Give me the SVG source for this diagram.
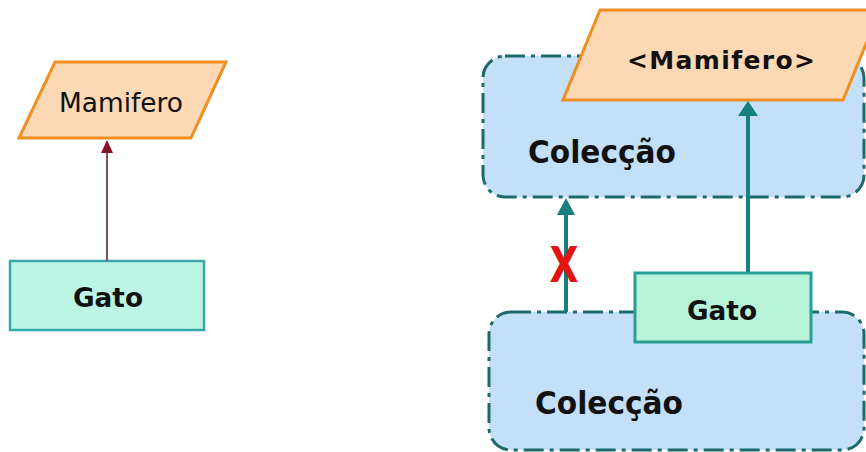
<svg xmlns="http://www.w3.org/2000/svg" width="866" height="452" viewBox="0 0 866 452">
<style>
.bg{fill:#ffffff}
.coll{fill:#c3e0f8;stroke:#1d6a6a;stroke-width:3;stroke-dasharray:20 6 4 6}
.para{fill:#fcd8b4;stroke:#ef8f22;stroke-width:3}
.gato{fill:#bdf5e4;stroke:#3aa8a8;stroke-width:2.5}
.t{font-family:"DejaVu Sans",Verdana,sans-serif;fill:#111}
.b{font-weight:bold}
.teal{stroke:#17807c;stroke-width:4;fill:none}
.brown{stroke:#7a5656;stroke-width:2;fill:none}
.head-teal{fill:#17807c}
</style>
<rect class="bg" x="0" y="0" width="866" height="452"/>
<g id="mamifero-left">
<polygon class="para" points="55,62 226,62 191,138 19,138"/>
<text class="t" x="121" y="112" font-size="26" text-anchor="middle" textLength="124" lengthAdjust="spacingAndGlyphs">Mamifero</text>
</g>
<g id="gato-left">
<rect class="gato" x="10" y="261" width="194" height="69"/>
<text class="t b" x="108" y="307" font-size="27" text-anchor="middle" textLength="70" lengthAdjust="spacingAndGlyphs">Gato</text>
</g>
<g id="colecao-top">
<rect class="coll" x="483" y="56" width="381" height="141" rx="22"/>
<text class="t b" x="528" y="163" font-size="32" textLength="148" lengthAdjust="spacingAndGlyphs">Colecção</text>
</g>
<g id="mamifero-right">
<polygon class="para" points="600,10 880,10 843,100 563,100"/>
<text class="t b" x="721" y="69" font-size="25" text-anchor="middle" textLength="188" lengthAdjust="spacing">&lt;Mamifero&gt;</text>
</g>
<g id="colecao-bottom">
<rect class="coll" x="489" y="312" width="375" height="138" rx="22"/>
<text class="t b" x="535" y="414" font-size="32" textLength="148" lengthAdjust="spacingAndGlyphs">Colecção</text>
</g>
<g id="connectors">
<line class="brown" x1="107" y1="261" x2="107" y2="150"/>
<polygon points="107,140 101,153 113,153" fill="#8a1028"/>
<line class="teal" x1="566" y1="312" x2="566" y2="212"/>
<polygon class="head-teal" points="566,198 557,215 575,215"/>
<line class="teal" x1="748" y1="273" x2="748" y2="112"/>
<polygon class="head-teal" points="748,101 738,116 758,116"/>
<text x="564" y="282" font-family="DejaVu Sans,sans-serif" font-weight="bold" font-size="50" fill="#e31414" text-anchor="middle" textLength="29" lengthAdjust="spacingAndGlyphs">X</text>
</g>
<g id="gato-right">
<rect class="gato" x="635" y="273" width="176" height="69" style="fill:#b6f3d8;stroke:#2a9d96;stroke-width:3"/>
<text class="t b" x="722" y="320" font-size="27" text-anchor="middle" textLength="70" lengthAdjust="spacingAndGlyphs">Gato</text>
</g>
</svg>
